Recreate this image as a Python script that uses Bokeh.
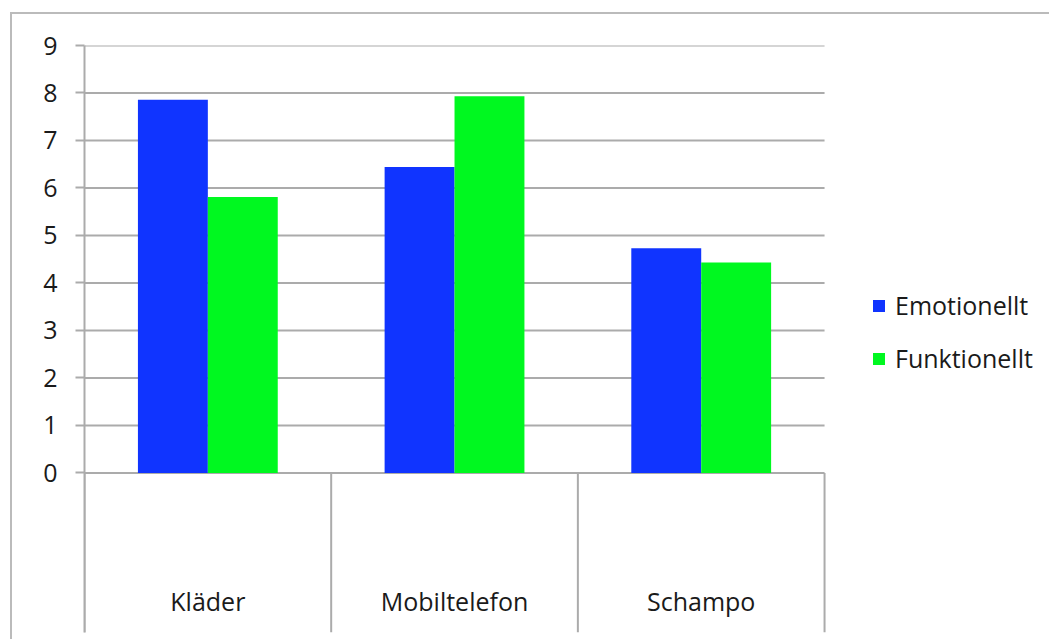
from bokeh.plotting import figure
from bokeh.models import (Range1d, FixedTicker, Legend, LegendItem, ColumnDataSource)
from bokeh.core.properties import value
from bokeh.embed import file_html
from bokeh.resources import INLINE

categories = ["Kläder", "Mobiltelefon", "Schampo"]
series_names = ["Emotionellt", "Funktionellt"]
emotionellt = [7.86, 6.44, 4.73]
funktionellt = [5.81, 7.93, 4.43]
y_ticks = [0, 1, 2, 3, 4, 5, 6, 7, 8, 9]

BLUE = "#1034FF"
GREEN = "#00F820"
GRID = "#ABABAB"
FONT = "Open Sans"
TEXT = "#1a1a1a"

n = len(categories)
centers = [i + 0.5 for i in range(n)]
bw = 0.2834
src = ColumnDataSource(dict(cat=categories, xc=centers,
                            xe=[c - bw / 2 for c in centers],
                            xf=[c + bw / 2 for c in centers],
                            e=emotionellt, f=funktionellt))

p = figure(width=1039, height=627, x_range=Range1d(0, 3.92),
           y_range=Range1d(-3.358, 9), output_backend="svg", toolbar_location=None,
           min_border_left=72, min_border_right=0, min_border_top=31, min_border_bottom=9)
p.styles = {"margin-top": "12px", "margin-left": "10px",
            "border-top": "2px solid #BBBBBB", "border-left": "2px solid #BBBBBB"}
p.outline_line_color = None
p.background_fill_color = "white"
p.border_fill_color = "white"
p.xaxis.visible = False
p.xgrid.grid_line_color = None
p.ygrid.grid_line_color = None

# horizontal gridlines across the category area
p.segment(x0=[0] * len(y_ticks), x1=[n] * len(y_ticks), y0=y_ticks, y1=y_ticks,
          line_color=GRID, line_width=2)

# category separators below the axis
bounds = list(range(n + 1))
p.segment(x0=bounds, x1=bounds, y0=[-3.358] * len(bounds), y1=[0] * len(bounds),
          line_color=GRID, line_width=2)

r1 = p.vbar(x="xe", top="e", width=bw, bottom=0, source=src,
            fill_color=BLUE, line_color=None)
r2 = p.vbar(x="xf", top="f", width=bw, bottom=0, source=src,
            fill_color=GREEN, line_color=None)

# y axis
ax = p.yaxis[0]
ax.ticker = FixedTicker(ticks=y_ticks)
ax.axis_line_color = GRID
ax.axis_line_width = 2
ax.major_tick_line_color = GRID
ax.major_tick_line_width = 2
ax.major_tick_out = 9
ax.major_tick_in = 0
ax.minor_tick_line_color = None
ax.major_label_text_font = FONT
ax.major_label_text_font_size = "25px"
ax.major_label_text_color = TEXT
ax.major_label_standoff = 18

# category labels
label_y = -2.70
p.text(x="xc", y=value(label_y), text="cat", source=src,
       text_font=value(FONT), text_font_size="25px", text_color=TEXT,
       text_align="center", text_baseline="middle")

# legend
legend = Legend(items=[LegendItem(label=series_names[0], renderers=[r1]),
                       LegendItem(label=series_names[1], renderers=[r2])],
                location=(787, 257), orientation="vertical")
legend.border_line_color = None
legend.background_fill_alpha = 0
legend.margin = 0
legend.padding = 0
legend.glyph_width = 15
legend.glyph_height = 15
legend.label_standoff = 9
legend.label_height = 24
legend.spacing = 19
legend.label_text_font = FONT
legend.label_text_font_size = "25px"
legend.label_text_color = TEXT
p.add_layout(legend, "center")

open("out.html", "w").write(file_html(p, INLINE))
